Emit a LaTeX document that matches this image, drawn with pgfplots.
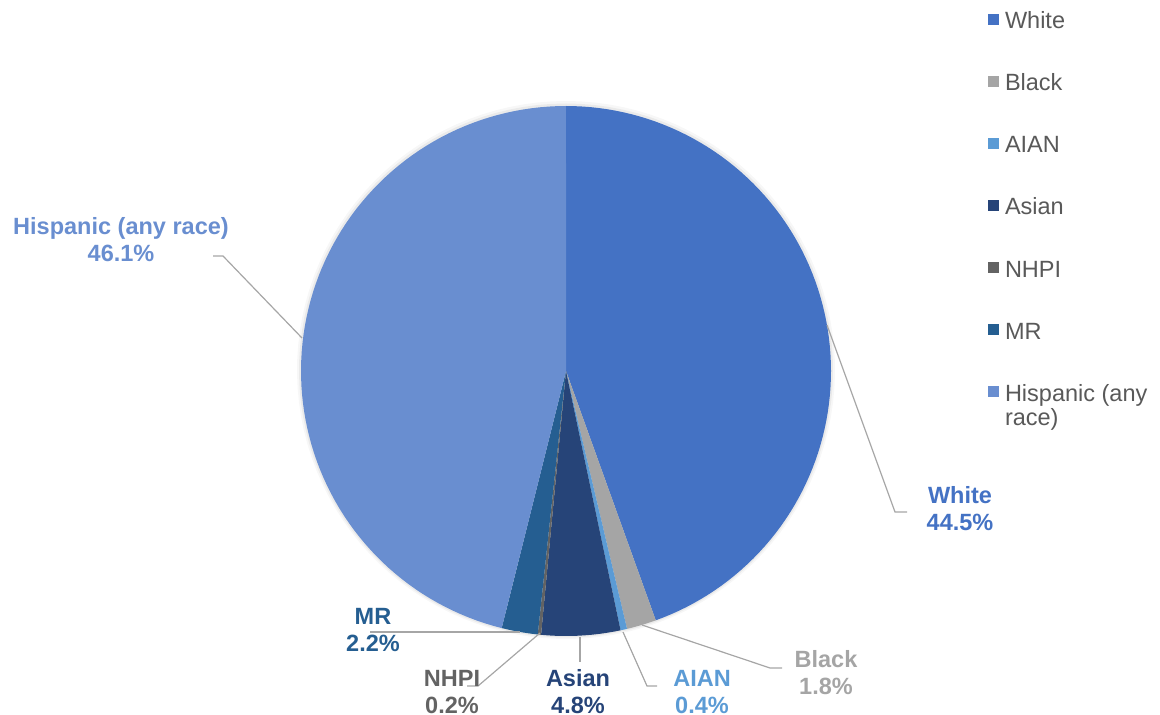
\documentclass[border=0pt]{standalone}
\usepackage{pgfplots}
\pgfplotsset{compat=1.18}
\usepackage{fontspec}
\setmainfont{Liberation Sans}
\definecolor{cWhite}{HTML}{4472C4}
\definecolor{cBlack}{HTML}{A5A5A5}
\definecolor{cAIAN}{HTML}{5B9BD5}
\definecolor{cAsian}{HTML}{264478}
\definecolor{cNHPI}{HTML}{636363}
\definecolor{cMR}{HTML}{255E91}
\definecolor{cHisp}{HTML}{698ED0}
\definecolor{leader}{HTML}{A6A6A6}
\definecolor{legtext}{HTML}{595959}
\tikzset{lab/.style={font=\fontsize{11.75}{12.5}\selectfont\bfseries, anchor=base, inner sep=0pt}}
\begin{document}
\begin{tikzpicture}
\begin{axis}[
  width=580pt, height=357.5pt, scale only axis,
  xmin=0, xmax=1160, ymin=0, ymax=715, y dir=reverse,
  hide axis, clip=false,
  legend cell align=left,
  legend image code/.code={\fill[#1] (0pt,-1.0pt) rectangle (5.5pt,4.5pt);},
  legend style={at={(axis cs:988,12)}, anchor=north west, draw=none, fill=none,
    inner sep=0pt, outer sep=0pt, row sep=20pt,
    font=\fontsize{11.75}{12.5}\selectfont, text=legtext,
    nodes={inner sep=0pt, text height=8.5pt, text depth=2.5pt},
    /tikz/every odd column/.append style={column sep=3pt}},
  leader/.style={draw=leader, line width=0.6pt, forget plot},
]
% soft shadow
\addplot[draw=none, fill=black, fill opacity=0.03, domain=0:100, samples=120, forget plot]
  ({566+269*sin(3.6*x)},{370-269*cos(3.6*x)}) -- cycle;
\addplot[draw=none, fill=black, fill opacity=0.05, domain=0:100, samples=120, forget plot]
  ({566+267*sin(3.6*x)},{370.5-267*cos(3.6*x)}) -- cycle;
% wedges: domain = cumulative percentage (White 44.5, Black 1.8, AIAN 0.4, Asian 4.8, NHPI 0.2, MR 2.2, Hispanic 46.1)
\addplot[draw=none, fill=cWhite, domain=0:44.5, samples=90]
  ({566+265*sin(3.6*x)},{371-265*cos(3.6*x)}) -- (axis cs:566,371) -- cycle;
\addlegendentry{White}
\addplot[draw=none, fill=cBlack, domain=44.5:46.3, samples=6]
  ({566+265*sin(3.6*x)},{371-265*cos(3.6*x)}) -- (axis cs:566,371) -- cycle;
\addlegendentry{Black}
\addplot[draw=none, fill=cAIAN, domain=46.3:46.7, samples=3]
  ({566+265*sin(3.6*x)},{371-265*cos(3.6*x)}) -- (axis cs:566,371) -- cycle;
\addlegendentry{AIAN}
\addplot[draw=none, fill=cAsian, domain=46.7:51.5, samples=12]
  ({566+265*sin(3.6*x)},{371-265*cos(3.6*x)}) -- (axis cs:566,371) -- cycle;
\addlegendentry{Asian}
\addplot[draw=none, fill=cNHPI, domain=51.5:51.7, samples=3]
  ({566+265*sin(3.6*x)},{371-265*cos(3.6*x)}) -- (axis cs:566,371) -- cycle;
\addlegendentry{NHPI}
\addplot[draw=none, fill=cMR, domain=51.7:53.9, samples=6]
  ({566+265*sin(3.6*x)},{371-265*cos(3.6*x)}) -- (axis cs:566,371) -- cycle;
\addlegendentry{MR}
\addplot[draw=none, fill=cHisp, domain=53.9:100, samples=90]
  ({566+265*sin(3.6*x)},{371-265*cos(3.6*x)}) -- (axis cs:566,371) -- cycle;
\addlegendentry{\parbox[t]{100pt}{\raggedright Hispanic (any\\race)}}
% leader lines
\addplot[leader] coordinates {(827,325) (895,512) (907,512)};
\addplot[leader] coordinates {(642,625) (770,668) (782,668)};
\addplot[leader] coordinates {(623,632) (647,686) (657,686)};
\addplot[leader] coordinates {(580,637) (580,662)};
\addplot[leader] coordinates {(540,633) (478,686) (467,686)};
\addplot[leader] coordinates {(520,632) (370,632)};
\addplot[leader] coordinates {(302,338) (223,256) (213,256)};
% labels
\node[lab, text=cWhite] at (axis cs:960,503) {White};
\node[lab, text=cWhite] at (axis cs:960,530) {44.5\%};
\node[lab, text=cBlack] at (axis cs:826,667) {Black};
\node[lab, text=cBlack] at (axis cs:826,694) {1.8\%};
\node[lab, text=cAIAN] at (axis cs:702,686) {AIAN};
\node[lab, text=cAIAN] at (axis cs:702,713) {0.4\%};
\node[lab, text=cAsian] at (axis cs:578,686) {Asian};
\node[lab, text=cAsian] at (axis cs:578,713) {4.8\%};
\node[lab, text=cNHPI] at (axis cs:452,686) {NHPI};
\node[lab, text=cNHPI] at (axis cs:452,713) {0.2\%};
\node[lab, text=cMR] at (axis cs:373,624) {MR};
\node[lab, text=cMR] at (axis cs:373,651) {2.2\%};
\node[lab, text=cHisp] at (axis cs:121,235) {Hispanic (any race)};
\node[lab, text=cHisp] at (axis cs:121,262) {46.1\%};
\end{axis}
\pgfresetboundingbox
\path (current axis.south west) rectangle (current axis.north east);
\end{tikzpicture}
\end{document}
